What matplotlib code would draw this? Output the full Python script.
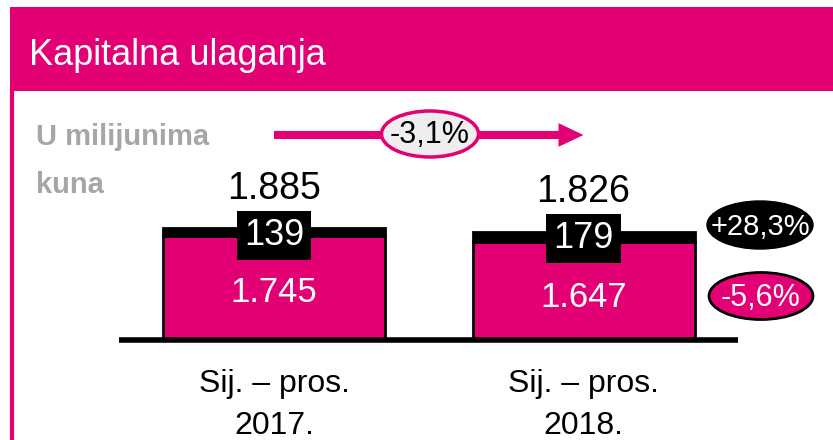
import numpy as np
import matplotlib
matplotlib.use("Agg")
import matplotlib.pyplot as plt
from matplotlib.patches import Rectangle, Ellipse

# data
CATEGORIES = ['Sij. – pros.\n2017.', 'Sij. – pros.\n2018.']
BASE_VALUES = [1745, 1647]      # magenta part
TOP_VALUES = [139, 179]         # black part
TOTAL_LABELS = ['1.885', '1.826']
BASE_LABELS = ['1.745', '1.647']
TOP_LABELS = ['139', '179']
CHANGE_TOTAL = '-3,1%'
CHANGE_TOP = '+28,3%'
CHANGE_BASE = '-5,6%'
TITLE = 'Kapitalna ulaganja'
UNIT = ['U milijunima', 'kuna']

MAGENTA = '#E20074'
GREY = '#A6A6A6'
FONT = ['Liberation Sans', 'DejaVu Sans']

W, H = 833, 440
fig = plt.figure(figsize=(W / 100, H / 100), dpi=100)
fig.patch.set_facecolor('white')

# bars axis covers whole figure, baseline at 340 px from top
ax = fig.add_axes([0, 0, 1, 1])
ax.axis('off')
px_per_unit = 112 / 1885.0
ax.set_ylim(-(H - 340) / px_per_unit, 340 / px_per_unit)
ax.set_xlim(-274 / 309.5, (W - 274) / 309.5)

x = np.arange(len(CATEGORIES))
base = np.array(BASE_VALUES)
top = np.array(TOP_VALUES)
total = base + top
bw = 222 / 309.5

ax.bar(x, base, width=bw, color=MAGENTA, edgecolor='black', linewidth=2, zorder=2)
ax.bar(x, top, bottom=base, width=bw, color='black', edgecolor='black', linewidth=2, zorder=2)
ax.plot([x[0] - 0.5, x[-1] + 0.5], [0, 0], color='black', lw=4, solid_capstyle='butt', zorder=3)

for i in range(len(x)):
    ax.annotate(TOTAL_LABELS[i], (x[i], total[i]), xytext=(0, 21), textcoords='offset points',
                ha='center', va='baseline', fontsize=27, color='black', family=FONT)
    ax.annotate(TOP_LABELS[i], (x[i], total[i]), xytext=(0, -12), textcoords='offset points',
                ha='center', va='baseline', fontsize=26, color='white', family=FONT, zorder=5,
                bbox=dict(boxstyle='square,pad=0.2', fc='black', ec='none'))
    ax.annotate(BASE_LABELS[i], (x[i], base[i]), xytext=(0, -47), textcoords='offset points',
                ha='center', va='baseline', fontsize=25, color='white', family=FONT)
    line1, line2 = CATEGORIES[i].split('\n')
    ax.annotate(line1, (x[i], 0), xytext=(0, -37.5), textcoords='offset points',
                ha='center', va='baseline', fontsize=23, color='black', family=FONT)
    ax.annotate(line2, (x[i], 0), xytext=(0, -67.5), textcoords='offset points',
                ha='center', va='baseline', fontsize=23, color='black', family=FONT)

# trend arrow from bar 1 to bar 2
ax.annotate('', xy=(x[1], H - 135), xycoords=('data', 'figure pixels'),
            xytext=(x[0], H - 135), textcoords=('data', 'figure pixels'),
            arrowprops=dict(arrowstyle='simple,tail_width=0.58,head_width=1.7,head_length=1.8',
                            mutation_scale=10, color=MAGENTA, lw=0, shrinkA=0, shrinkB=0))

# overlay in pixel coordinates for the frame and badges
ov = fig.add_axes([0, 0, 1, 1])
ov.set_xlim(0, W)
ov.set_ylim(H, 0)
ov.axis('off')
ov.patch.set_alpha(0)

ov.add_patch(Rectangle((10, 7), W - 10, 84, color=MAGENTA, lw=0))
ov.plot([12, 12], [91, H], color=MAGENTA, lw=3)
ov.text(29, 65, TITLE, color='white', fontsize=26, ha='left', va='baseline', family=FONT)
ov.text(36, 145, UNIT[0], color=GREY, fontsize=21, fontweight='bold',
        ha='left', va='baseline', family=FONT)
ov.text(36, 193, UNIT[1], color=GREY, fontsize=21, fontweight='bold',
        ha='left', va='baseline', family=FONT)

ov.add_patch(Ellipse((430, 134), 97, 46, fc='#EEEEEE', ec=MAGENTA, lw=2.5, zorder=4))
ov.text(430, 135, CHANGE_TOTAL, fontsize=22, ha='center', va='center', color='black',
        family=FONT, zorder=5)

ov.add_patch(Ellipse((760, 225), 106, 48, fc='black', ec='black', lw=1, zorder=4))
ov.text(760, 227, CHANGE_TOP, fontsize=21, ha='center', va='center', color='white',
        family=FONT, zorder=5)

ov.add_patch(Ellipse((761, 296), 104, 47, fc=MAGENTA, ec='black', lw=2, zorder=4))
ov.text(761, 298, CHANGE_BASE, fontsize=22, ha='center', va='center', color='white',
        family=FONT, zorder=5)

fig.savefig('out.png', dpi=100)
